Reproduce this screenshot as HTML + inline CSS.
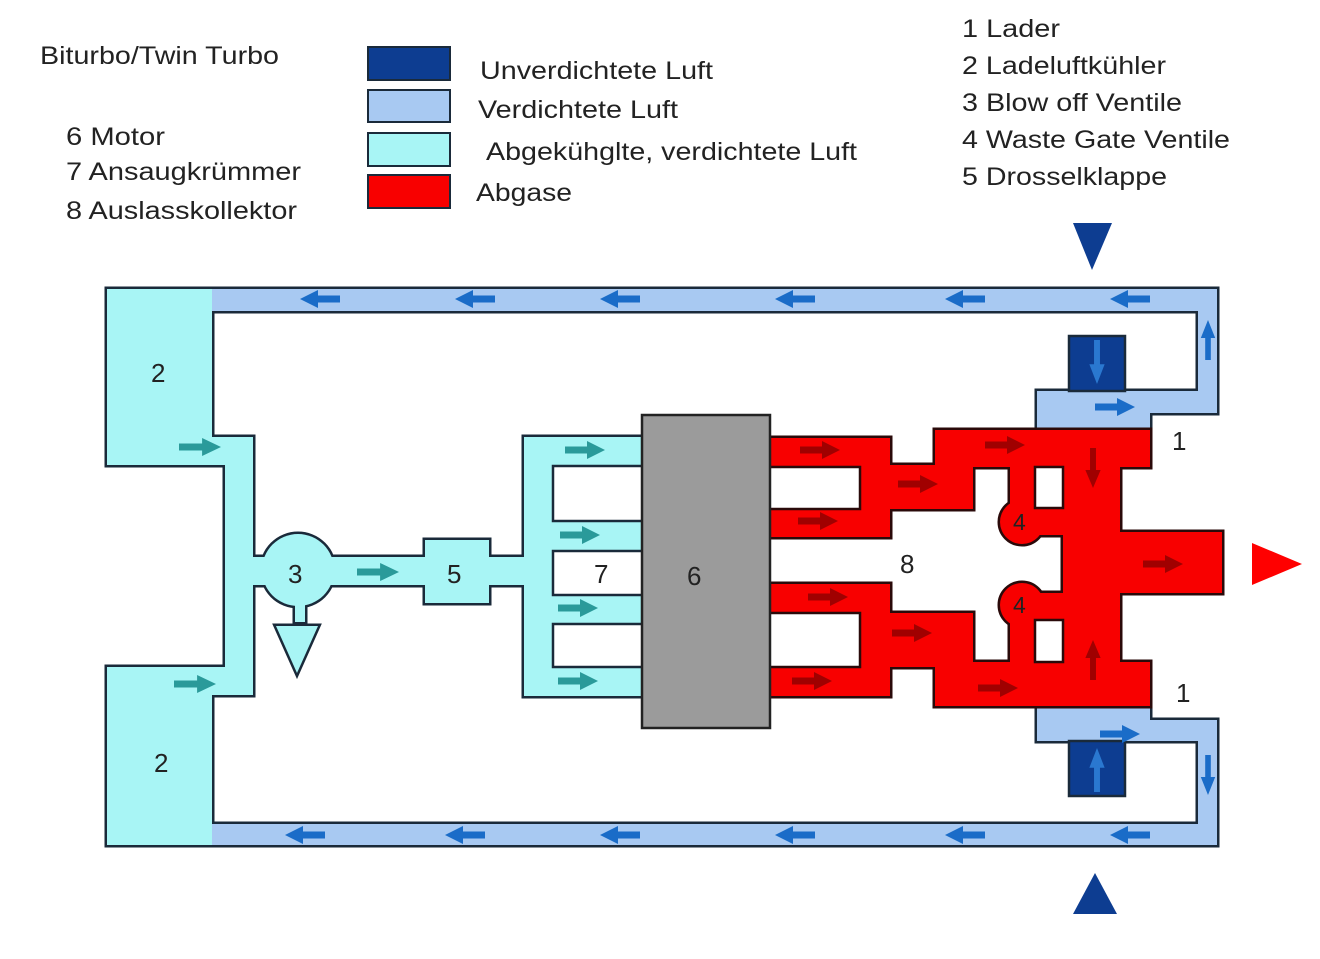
<!DOCTYPE html>
<html><head><meta charset="utf-8"><style>
html,body{margin:0;padding:0;background:#fff;}
svg{display:block;}
text{font-family:"Liberation Sans",sans-serif;fill:#222;}
</style></head><body>
<svg width="1320" height="959" viewBox="0 0 1320 959" xmlns="http://www.w3.org/2000/svg">
<defs>
<path id="ar" d="M-20,-3.5 H2 V-9 L20,0 L2,9 V3.5 H-20 Z"/>
</defs>
<g font-size="25">
<text x="40" y="64" textLength="239" lengthAdjust="spacingAndGlyphs">Biturbo/Twin Turbo</text>
<text x="66" y="145" textLength="99" lengthAdjust="spacingAndGlyphs">6 Motor</text>
<text x="66" y="180" textLength="235" lengthAdjust="spacingAndGlyphs">7 Ansaugkrümmer</text>
<text x="66" y="219" textLength="231" lengthAdjust="spacingAndGlyphs">8 Auslasskollektor</text>
<text x="480" y="79" textLength="233" lengthAdjust="spacingAndGlyphs">Unverdichtete Luft</text>
<text x="478" y="118" textLength="200" lengthAdjust="spacingAndGlyphs">Verdichtete Luft</text>
<text x="486" y="160" textLength="371" lengthAdjust="spacingAndGlyphs">Abgekühglte, verdichtete Luft</text>
<text x="476" y="201" textLength="96" lengthAdjust="spacingAndGlyphs">Abgase</text>
<text x="962" y="37" textLength="98" lengthAdjust="spacingAndGlyphs">1 Lader</text>
<text x="962" y="74" textLength="204" lengthAdjust="spacingAndGlyphs">2 Ladeluftkühler</text>
<text x="962" y="111" textLength="220" lengthAdjust="spacingAndGlyphs">3 Blow off Ventile</text>
<text x="962" y="148" textLength="268" lengthAdjust="spacingAndGlyphs">4 Waste Gate Ventile</text>
<text x="962" y="185" textLength="205" lengthAdjust="spacingAndGlyphs">5 Drosselklappe</text>
</g>
<g stroke="#1a2a3a" stroke-width="2">
<rect x="368" y="47" width="82" height="33" fill="#0d3d91"/>
<rect x="368" y="90" width="82" height="32" fill="#a8c9f2"/>
<rect x="368" y="133" width="82" height="33" fill="#a8f5f5"/>
<rect x="368" y="175" width="82" height="33" fill="#f80000"/>
</g>
<polygon points="1073,223 1112,223 1092,270" fill="#0d3d91"/>
<polygon points="1073,914 1117,914 1095,873" fill="#0d3d91"/>
<polygon points="1252,543 1252,585 1302,564" fill="#f00"/>

<g id="air">
<rect x="107" y="289" width="105" height="176"/>
<rect x="212" y="437" width="41" height="28"/>
<rect x="225" y="437" width="28" height="258"/>
<rect x="107" y="667" width="105" height="178"/>
<rect x="212" y="667" width="41" height="28"/>
<rect x="253" y="557" width="45" height="28"/>
<circle cx="298" cy="570" r="36"/>
<rect x="298" y="557" width="127" height="28"/>
<rect x="425" y="540" width="64" height="63"/>
<rect x="489" y="557" width="40" height="28"/>
<rect x="524" y="437" width="118" height="259"/>
<rect x="295" y="600" width="10" height="22"/>
<polygon points="276,626 318,626 297,673"/>
<rect x="212" y="289" width="1005" height="22"/>
<rect x="1198" y="289" width="19" height="124"/>
<rect x="1037" y="391" width="180" height="22"/>
<rect x="1037" y="391" width="113" height="38"/>
<rect x="212" y="824" width="1005" height="21"/>
<rect x="1198" y="720" width="19" height="125"/>
<rect x="1037" y="720" width="180" height="21"/>
<rect x="1037" y="703" width="113" height="38"/>
</g>
<use href="#air" fill="none" stroke="#1a2a3a" stroke-width="5"/>
<g fill="#a8f5f5">
<rect x="107" y="289" width="105" height="176"/>
<rect x="212" y="437" width="41" height="28"/>
<rect x="225" y="437" width="28" height="258"/>
<rect x="107" y="667" width="105" height="178"/>
<rect x="212" y="667" width="41" height="28"/>
<rect x="253" y="557" width="45" height="28"/>
<circle cx="298" cy="570" r="36"/>
<rect x="298" y="557" width="127" height="28"/>
<rect x="425" y="540" width="64" height="63"/>
<rect x="489" y="557" width="40" height="28"/>
<rect x="524" y="437" width="118" height="259"/>
<rect x="295" y="600" width="10" height="22"/>
<polygon points="276,626 318,626 297,673"/>
</g>
<g fill="#a8c9f2">
<rect x="212" y="289" width="1005" height="22"/>
<rect x="1198" y="289" width="19" height="124"/>
<rect x="1037" y="391" width="180" height="22"/>
<rect x="1037" y="391" width="113" height="38"/>
<rect x="212" y="824" width="1005" height="21"/>
<rect x="1198" y="720" width="19" height="125"/>
<rect x="1037" y="720" width="180" height="21"/>
<rect x="1037" y="703" width="113" height="38"/>
</g>
<g fill="#fff" stroke="#1a2a3a" stroke-width="2.5">
<rect x="553" y="466" width="95" height="55"/>
<rect x="553" y="551" width="95" height="44"/>
<rect x="553" y="624" width="95" height="43"/>
</g>
<g fill="#0d3d91" stroke="#1a2a3a" stroke-width="2.5">
<rect x="1069" y="336" width="56" height="55"/>
<rect x="1069" y="741" width="56" height="55"/>
</g>

<g id="red">
<rect x="770" y="438" width="120" height="99"/>
<rect x="890" y="465" width="45" height="44"/>
<rect x="935" y="430" width="215" height="37"/>
<rect x="935" y="430" width="38" height="79"/>
<rect x="1010" y="430" width="25" height="90"/>
<circle cx="1022" cy="522" r="22"/>
<rect x="1022" y="508" width="41" height="27"/>
<rect x="1063" y="430" width="57" height="276"/>
<rect x="1120" y="532" width="102" height="61"/>
<rect x="935" y="662" width="215" height="44"/>
<rect x="935" y="613" width="38" height="93"/>
<rect x="890" y="613" width="45" height="54"/>
<rect x="770" y="584" width="120" height="112"/>
<rect x="1010" y="605" width="25" height="101"/>
<circle cx="1022" cy="605" r="22"/>
<rect x="1022" y="593" width="41" height="27"/>
</g>
<use href="#red" fill="none" stroke="#2a0a0a" stroke-width="5"/>
<use href="#red" fill="#f80000"/>
<g fill="#fff" stroke="#2a0a0a" stroke-width="2.5">
<rect x="760" y="467" width="100" height="42"/>
<rect x="760" y="613" width="100" height="54"/>
<rect x="1035" y="467" width="28" height="41"/>
<rect x="1035" y="620" width="28" height="42"/>
</g>

<rect x="642" y="415" width="128" height="313" fill="#9b9b9b" stroke="#222" stroke-width="2.5"/>

<g fill="#2a9a9a">
<use href="#ar" transform="translate(200,447) scale(1.05,1)"/>
<use href="#ar" transform="translate(195,684) scale(1.05,1)"/>
<use href="#ar" transform="translate(378,572) scale(1.05,1)"/>
<use href="#ar" transform="translate(585,450)"/>
<use href="#ar" transform="translate(580,535)"/>
<use href="#ar" transform="translate(578,608)"/>
<use href="#ar" transform="translate(578,681)"/>
</g>
<g fill="#1a6cc8">
<use href="#ar" transform="translate(320,299) scale(-1,1)"/>
<use href="#ar" transform="translate(475,299) scale(-1,1)"/>
<use href="#ar" transform="translate(620,299) scale(-1,1)"/>
<use href="#ar" transform="translate(795,299) scale(-1,1)"/>
<use href="#ar" transform="translate(965,299) scale(-1,1)"/>
<use href="#ar" transform="translate(1130,299) scale(-1,1)"/>
<use href="#ar" transform="translate(305,835) scale(-1,1)"/>
<use href="#ar" transform="translate(465,835) scale(-1,1)"/>
<use href="#ar" transform="translate(620,835) scale(-1,1)"/>
<use href="#ar" transform="translate(795,835) scale(-1,1)"/>
<use href="#ar" transform="translate(965,835) scale(-1,1)"/>
<use href="#ar" transform="translate(1130,835) scale(-1,1)"/>
<use href="#ar" transform="translate(1208,340) rotate(-90) scale(1,0.8)"/>
<use href="#ar" transform="translate(1208,775) rotate(90) scale(1,0.8)"/>
<use href="#ar" transform="translate(1115,407)"/>
<use href="#ar" transform="translate(1120,734)"/>
</g>
<g fill="#2a78d0">
<use href="#ar" transform="translate(1097,362) rotate(90) scale(1.1,0.85)"/>
<use href="#ar" transform="translate(1097,770) rotate(-90) scale(1.1,0.85)"/>
</g>
<g fill="#a00000">
<use href="#ar" transform="translate(820,450)"/>
<use href="#ar" transform="translate(818,521)"/>
<use href="#ar" transform="translate(918,484)"/>
<use href="#ar" transform="translate(1005,445)"/>
<use href="#ar" transform="translate(1093,468) rotate(90) scale(1,0.85)"/>
<use href="#ar" transform="translate(828,597)"/>
<use href="#ar" transform="translate(912,633)"/>
<use href="#ar" transform="translate(812,681)"/>
<use href="#ar" transform="translate(998,688)"/>
<use href="#ar" transform="translate(1093,660) rotate(-90) scale(1,0.85)"/>
<use href="#ar" transform="translate(1163,564)"/>
</g>

<g font-size="26" fill="#222">
<text x="151" y="382">2</text>
<text x="154" y="772">2</text>
<text x="288" y="583">3</text>
<text x="447" y="583">5</text>
<text x="594" y="583">7</text>
<text x="687" y="585">6</text>
<text x="900" y="573">8</text>
<text x="1172" y="450">1</text>
<text x="1176" y="702">1</text>
</g>
<g font-size="23" fill="#a00000">
<text x="1013" y="530">4</text>
<text x="1013" y="613">4</text>
</g>
</svg>
</body></html>
